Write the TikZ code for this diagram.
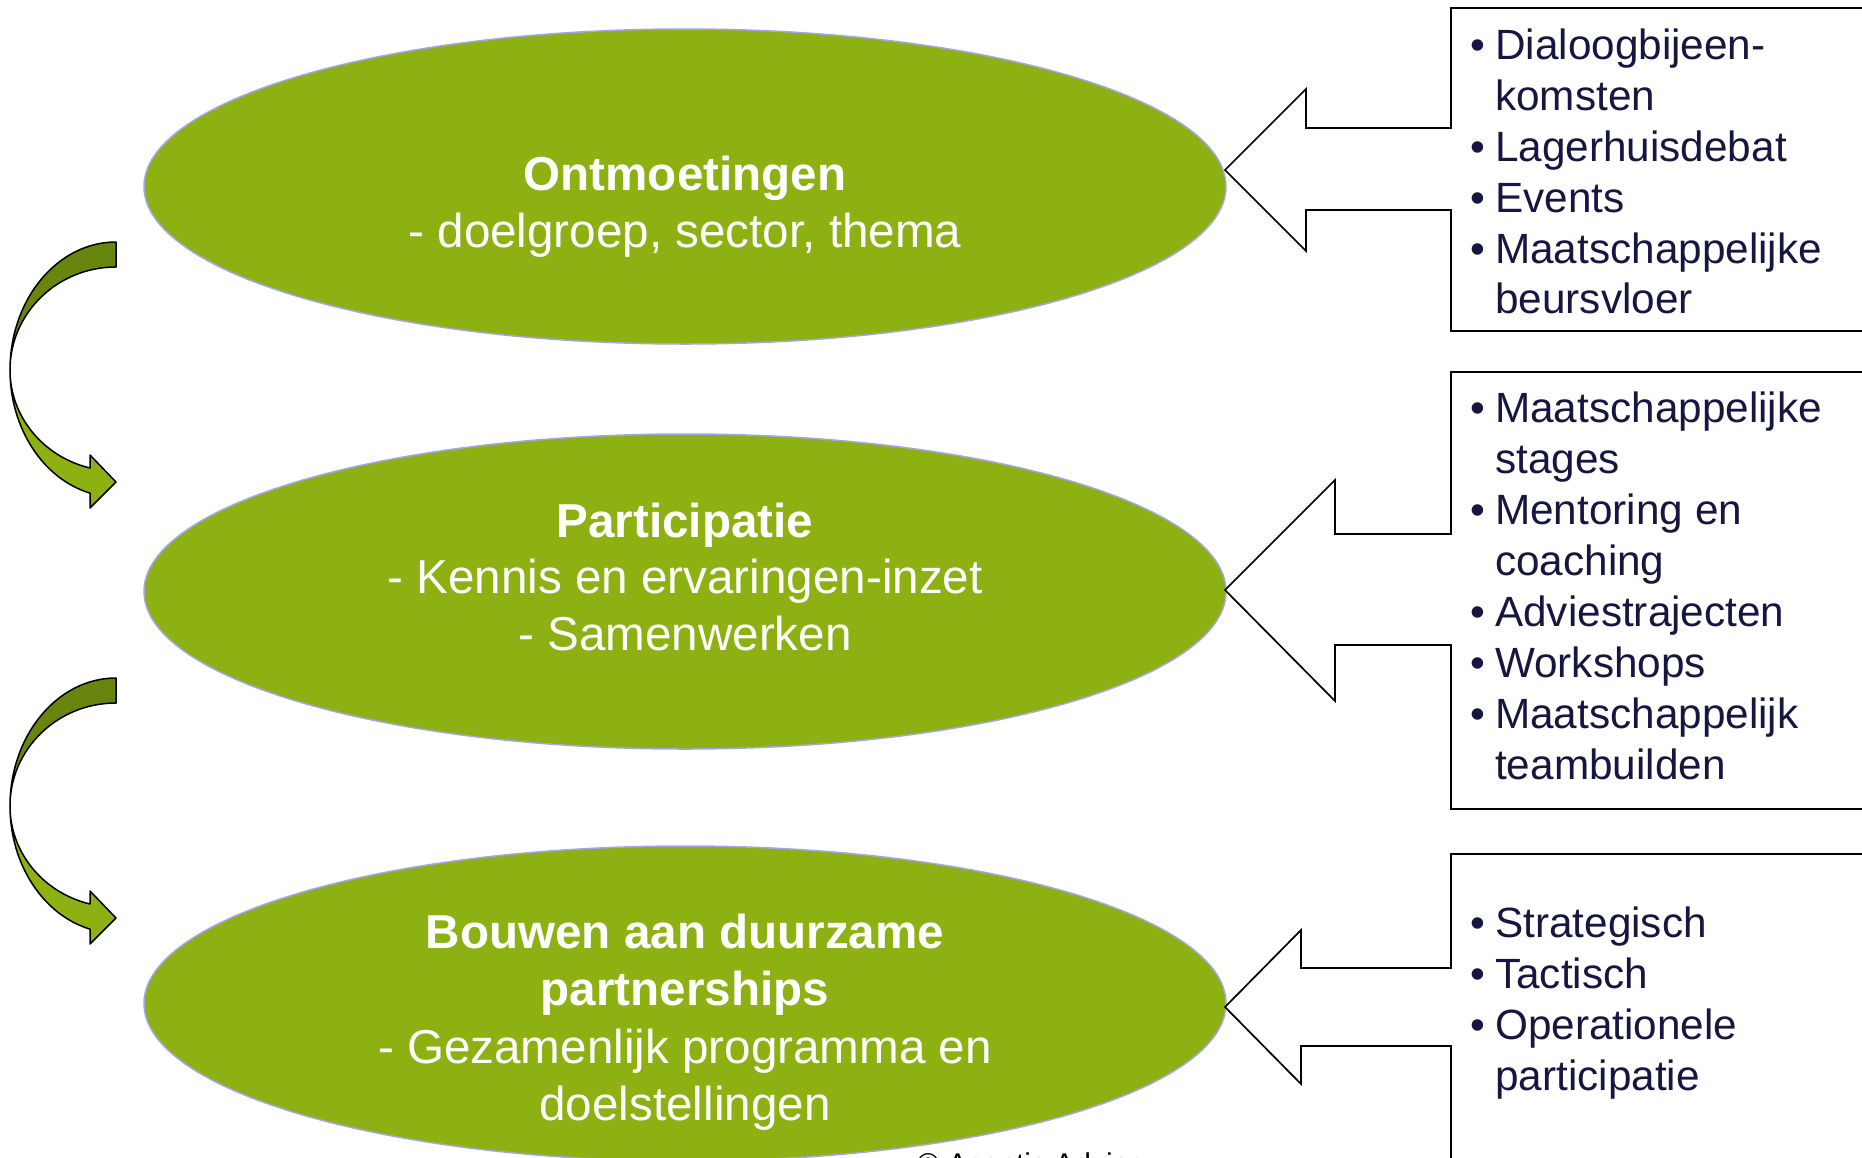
\documentclass[tikz,border=0pt]{standalone}
\usepackage{fontspec}
\setmainfont{Liberation Sans}
\usetikzlibrary{shapes.geometric}
\definecolor{leaf}{RGB}{141,176,19}
\definecolor{leafdark}{RGB}{104,133,14}
\definecolor{rim}{RGB}{165,165,230}
\definecolor{inktext}{RGB}{22,22,64}
\begin{document}
\begin{tikzpicture}[x=1pt,y=-1pt,
  oval/.style={ellipse, fill=leaf, draw=rim, line width=1.5pt, minimum width=1082pt, minimum height=315pt, inner sep=0pt},
  ovaltext/.style={text=white, font=\fontsize{47.6}{57}\selectfont, anchor=base, inner sep=0pt},
  ovalhead/.style={text=white, font=\fontsize{47.6}{57}\selectfont\bfseries, anchor=base, inner sep=0pt},
  itemtext/.style={text=inktext, font=\fontsize{42.3}{51}\selectfont, anchor=base west, inner sep=0pt},
  boxarea/.style={draw=none, inner sep=0pt, anchor=north west},
  callout/.style={draw=black, line width=1.7pt, line join=miter},
  bendarrow/.style={draw=black, line width=1.5pt, line join=round}]
\useasboundingbox (0,0) rectangle (1862,1157);
\clip (0,0) rectangle (1862,1157);

% ellipses
\node[oval] (e1) at (685,186.5) {};
\node[oval] (e2) at (685,591.5) {};
\node[oval] (e3) at (685,1003.5) {};

\node[ovalhead] (t1a) at (685,190) {Ontmoetingen};
\node[ovaltext] (t1b) at (685,247) {- doelgroep, sector, thema};
\node[ovalhead] (t2a) at (685,537) {Participatie};
\node[ovaltext] (t2b) at (685,593) {- Kennis en ervaringen-inzet};
\node[ovaltext] (t2c) at (685,650) {- Samenwerken};
\node[ovalhead] (t3a) at (685,948) {Bouwen aan duurzame};
\node[ovalhead] (t3b) at (685,1005) {partnerships};
\node[ovaltext] (t3c) at (685,1063) {- Gezamenlijk programma en};
\node[ovaltext] (t3d) at (685,1120) {doelstellingen};

% callout boxes
\node[boxarea, minimum width=450pt, minimum height=323pt] (b1) at (1451,8) {};
\node[boxarea, minimum width=450pt, minimum height=437pt] (b2) at (1451,372) {};
\node[boxarea, minimum width=450pt, minimum height=340pt] (b3) at (1451,854) {};

\draw[callout] (1900,8) -- (1451,8) -- (1451,128) -- (1306,128) -- (1306,89) -- (1225,170)
  -- (1306,251) -- (1306,210) -- (1451,210) -- (1451,331) -- (1900,331);
\draw[callout] (1900,372) -- (1451,372) -- (1451,534) -- (1335,534) -- (1335,480) -- (1225,590)
  -- (1335,701) -- (1335,645) -- (1451,645) -- (1451,809) -- (1900,809);
\draw[callout] (1900,854) -- (1451,854) -- (1451,968) -- (1301,968) -- (1301,930) -- (1225,1007)
  -- (1301,1084) -- (1301,1046) -- (1451,1046) -- (1451,1200);

% items
\foreach \yy/\txt/\bul [count=\i] in {59/Dialoogbijeen-/1, 110/komsten/0, 161/Lagerhuisdebat/1,
  212/Events/1, 263/Maatschappelijke/1, 313/beursvloer/0}{
  \node[itemtext] (ia-\i) at (1495,\yy) {\txt};
  \ifnum\bul=1 \node[itemtext] (ia-\i-b) at (1470,\yy) {•};\fi
}
\foreach \yy/\txt/\bul [count=\i] in {422/Maatschappelijke/1, 473/stages/0, 524/Mentoring en/1,
  575/coaching/0, 626/Adviestrajecten/1, 677/Workshops/1, 728/Maatschappelijk/1, 779/teambuilden/0}{
  \node[itemtext] (ib-\i) at (1495,\yy) {\txt};
  \ifnum\bul=1 \node[itemtext] (ib-\i-b) at (1470,\yy) {•};\fi
}
\foreach \yy/\txt/\bul [count=\i] in {937/Strategisch/1, 988/Tactisch/1, 1039/Operationele/1,
  1090/participatie/0}{
  \node[itemtext] (ic-\i) at (1495,\yy) {\txt};
  \ifnum\bul=1 \node[itemtext] (ic-\i-b) at (1470,\yy) {•};\fi
}

% curved arrows
\foreach \dy in {0,436}{
\begin{scope}[shift={(0,\dy)}]
  \filldraw[bendarrow, fill=leafdark] (116,242)
    arc[start angle=270, end angle=180, x radius=106, y radius=128]
    arc[start angle=180, end angle=270, x radius=106, y radius=103] -- cycle;
  \filldraw[bendarrow, fill=leaf] (10,370)
    arc[start angle=180, end angle=104.2, x radius=106, y radius=127]
    -- (90,508) -- (116,482) -- (90,455) -- (90,468)
    arc[start angle=104.2, end angle=180, x radius=106, y radius=101] -- cycle;
\end{scope}
}

\node[anchor=base west, inner sep=0pt, font=\fontsize{30}{36}\selectfont] (copy) at (917,1174) {© Acentic Advies};
\end{tikzpicture}
\end{document}
